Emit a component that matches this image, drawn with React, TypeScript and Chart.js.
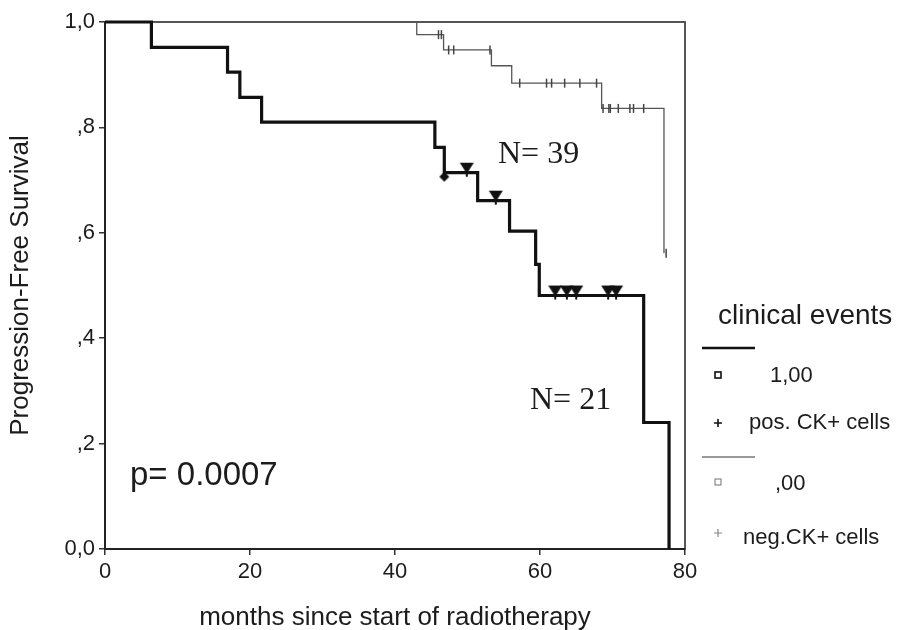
import React, { useEffect, useRef } from "react";
import { Chart, registerables } from "chart.js";

Chart.register(...registerables);

// ---- data ----
const xTickValues = [0, 20, 40, 60, 80];
const yTickValues = [0, 0.2, 0.4, 0.6, 0.8, 1.0];
const yTickLabels = ["0,0", ",2", ",4", ",6", ",8", "1,0"];

// group "1,00" (pos. CK+ cells), N = 21 : event times and survival after each event
const posTimes = [0, 6.4, 16.9, 18.6, 21.6, 45.5, 46.8, 51.4, 55.8, 59.4, 59.9, 74.3, 77.8];
const posSurv = [1.0, 0.952, 0.905, 0.857, 0.81, 0.762, 0.714, 0.661, 0.603, 0.54, 0.481, 0.24, 0.0];
const posCensorTimes = [49.9, 53.9, 62.1, 63.7, 65.0, 69.4, 70.5];
const posPlusTimes = [46.8];

// group ",00" (neg. CK+ cells), N = 39
const negTimes = [0, 43.0, 46.7, 53.3, 56.1, 68.5, 77.1];
const negSurv = [1.0, 0.976, 0.947, 0.917, 0.884, 0.836, 0.561];
const negCensorTimes = [
  46.0, 46.4, 47.4, 48.1, 53.1, 57.2, 60.9, 61.6, 63.4, 65.5, 67.8, 68.7,
  69.5, 69.7, 70.8, 72.4, 72.9, 74.3, 77.4,
];

const xTitle = "months since start of radiotherapy";
const yTitle = "Progression-Free Survival";
const pText = "p= 0.0007";
const nPosText = "N= 21";
const nNegText = "N= 39";
const legendTitle = "clinical events";
const legendItems = ["1,00", "pos. CK+ cells", ",00", "neg.CK+ cells"];

const SANS = "'Liberation Sans', Arial, sans-serif";
const SERIF = "'Liberation Serif', 'Times New Roman', serif";

function survAt(times: number[], surv: number[], t: number) {
  let v = surv[0];
  for (let i = 0; i < times.length; i++) if (times[i] <= t) v = surv[i];
  return v;
}

function makeTriangle() {
  const c = document.createElement("canvas");
  c.width = 16;
  c.height = 24;
  const g = c.getContext("2d")!;
  g.fillStyle = "#111";
  g.beginPath();
  g.moveTo(1, 2);
  g.lineTo(15, 2);
  g.lineTo(8, 13);
  g.closePath();
  g.fill();
  g.strokeStyle = "#111";
  g.lineWidth = 2;
  g.beginPath();
  g.moveTo(8, 2);
  g.lineTo(8, 16);
  g.stroke();
  return c;
}

function makeDiamond() {
  const c = document.createElement("canvas");
  c.width = 14;
  c.height = 24;
  const g = c.getContext("2d")!;
  g.fillStyle = "#111";
  g.beginPath();
  g.moveTo(7, 11);
  g.lineTo(12, 16);
  g.lineTo(7, 21);
  g.lineTo(2, 16);
  g.closePath();
  g.fill();
  g.strokeStyle = "#111";
  g.lineWidth = 2;
  g.beginPath();
  g.moveTo(7, 6);
  g.lineTo(7, 20);
  g.stroke();
  return c;
}

const annotPlugin = {
  id: "annot",
  beforeDatasetsDraw(chart: any) {
    const { ctx, chartArea: a } = chart;
    ctx.save();
    ctx.strokeStyle = "#444";
    ctx.lineWidth = 1.8;
    ctx.strokeRect(a.left, a.top, a.right - a.left, a.bottom - a.top);
    ctx.strokeStyle = "#222";
    ctx.lineWidth = 2;
    ctx.beginPath();
    ctx.moveTo(a.left, a.top);
    ctx.lineTo(a.left, a.bottom);
    ctx.lineTo(a.right, a.bottom);
    ctx.stroke();
    ctx.restore();
  },
  afterDraw(chart: any) {
    const { ctx, chartArea: a } = chart;
    ctx.save();
    ctx.fillStyle = "#1c1c1c";
    ctx.textBaseline = "middle";

    // axis titles
    ctx.font = `26px ${SANS}`;
    ctx.textAlign = "center";
    ctx.fillText(xTitle, (a.left + a.right) / 2, 618);
    ctx.save();
    ctx.translate(21, (a.top + a.bottom) / 2);
    ctx.rotate(-Math.PI / 2);
    ctx.fillText(yTitle, 0, 0);
    ctx.restore();

    // annotations
    ctx.textAlign = "left";
    ctx.font = `33px ${SANS}`;
    ctx.fillText(pText, 130, 476);
    ctx.font = `32px ${SERIF}`;
    ctx.fillText(nNegText, 498, 155);
    ctx.fillText(nPosText, 530, 401);

    // legend
    ctx.font = `28px ${SANS}`;
    ctx.fillText(legendTitle, 718, 316);
    ctx.strokeStyle = "#111";
    ctx.lineWidth = 2.5;
    ctx.beginPath();
    ctx.moveTo(702, 348);
    ctx.lineTo(755, 348);
    ctx.stroke();
    ctx.strokeStyle = "#777";
    ctx.lineWidth = 1.3;
    ctx.beginPath();
    ctx.moveTo(702, 457);
    ctx.lineTo(755, 457);
    ctx.stroke();

    // legend markers
    ctx.lineWidth = 1.6;
    ctx.strokeStyle = "#111";
    ctx.strokeRect(715, 372, 6, 6);
    ctx.beginPath();
    ctx.moveTo(714, 423);
    ctx.lineTo(722, 423);
    ctx.moveTo(718, 419);
    ctx.lineTo(718, 427);
    ctx.stroke();
    ctx.strokeStyle = "#888";
    ctx.lineWidth = 1.2;
    ctx.strokeRect(715, 479, 6, 6);
    ctx.beginPath();
    ctx.moveTo(714, 533);
    ctx.lineTo(722, 533);
    ctx.moveTo(718, 529);
    ctx.lineTo(718, 537);
    ctx.stroke();

    ctx.font = `22px ${SANS}`;
    ctx.fillStyle = "#1c1c1c";
    ctx.fillText(legendItems[0], 770, 376);
    ctx.fillText(legendItems[1], 749, 423);
    ctx.fillText(legendItems[2], 775, 484);
    ctx.fillText(legendItems[3], 743, 538);
    ctx.restore();
  },
};

export default function App() {
  const ref = useRef<HTMLCanvasElement>(null);

  useEffect(() => {
    document.body.style.margin = "0";
    if (!ref.current) return;
    const tri = makeTriangle();
    const dia = makeDiamond();

    const posLine = posTimes.map((t, i) => ({ x: t, y: posSurv[i] }));
    const negLine = negTimes.map((t, i) => ({ x: t, y: negSurv[i] }));
    const posCens = posCensorTimes.map((t) => ({ x: t, y: survAt(posTimes, posSurv, t) }));
    const posPlus = posPlusTimes.map((t) => ({ x: t, y: survAt(posTimes, posSurv, t) }));
    const negCens = negCensorTimes.map((t) => ({ x: t, y: survAt(negTimes, negSurv, t) }));

    const chart = new Chart(ref.current, {
      type: "line",
      data: {
        datasets: [
          {
            data: posLine,
            borderColor: "#111",
            borderWidth: 3.2,
            stepped: "before",
            pointRadius: 0,
            fill: false,
            clip: false,
            order: 1,
          } as any,
          {
            data: posCens,
            showLine: false,
            pointStyle: tri as any,
            pointRadius: 8,
            clip: false,
            order: 0,
          } as any,
          {
            data: posPlus,
            showLine: false,
            pointStyle: dia as any,
            pointRadius: 8,
            clip: false,
            order: 0,
          } as any,
          {
            data: negLine,
            borderColor: "#555",
            borderWidth: 1.3,
            stepped: "before",
            pointRadius: 0,
            fill: false,
            clip: false,
            order: 3,
          } as any,
          {
            data: negCens,
            showLine: false,
            pointStyle: "line",
            rotation: 90,
            pointRadius: 4.5,
            borderColor: "#444",
            borderWidth: 1.5,
            clip: false,
            order: 2,
          } as any,
        ],
      },
      options: {
        responsive: false,
        animation: false,
        events: [],
        layout: { padding: { left: 0, top: 22, right: 214, bottom: 0 } },
        plugins: { legend: { display: false }, tooltip: { enabled: false }, title: { display: false } },
        scales: {
          x: {
            type: "linear",
            min: 0,
            max: 80,
            afterFit: (s: any) => {
              s.height = 81;
            },
            afterBuildTicks: (s: any) => {
              s.ticks = xTickValues.map((v) => ({ value: v }));
            },
            border: { display: false },
            grid: { display: true, drawOnChartArea: false, drawTicks: true, tickLength: 6, color: "#333", lineWidth: 1.5 },
            ticks: {
              padding: 4,
              maxRotation: 0,
              color: "#1c1c1c",
              font: { family: SANS, size: 22 },
              callback: (v: any) => String(v),
            },
          },
          y: {
            type: "linear",
            min: 0,
            max: 1,
            afterFit: (s: any) => {
              s.width = 105;
            },
            afterBuildTicks: (s: any) => {
              s.ticks = yTickValues.map((v) => ({ value: v }));
            },
            border: { display: false },
            grid: { display: true, drawOnChartArea: false, drawTicks: true, tickLength: 6, color: "#333", lineWidth: 1.5 },
            ticks: {
              padding: 4,
              color: "#1c1c1c",
              font: { family: SANS, size: 22 },
              callback: (v: any) => {
                const i = yTickValues.findIndex((t) => Math.abs(t - Number(v)) < 1e-6);
                return i >= 0 ? yTickLabels[i] : "";
              },
            },
          },
        },
      },
      plugins: [annotPlugin],
    });
    return () => chart.destroy();
  }, []);

  return <canvas ref={ref} width={899} height={630} style={{ display: "block" }} />;
}
